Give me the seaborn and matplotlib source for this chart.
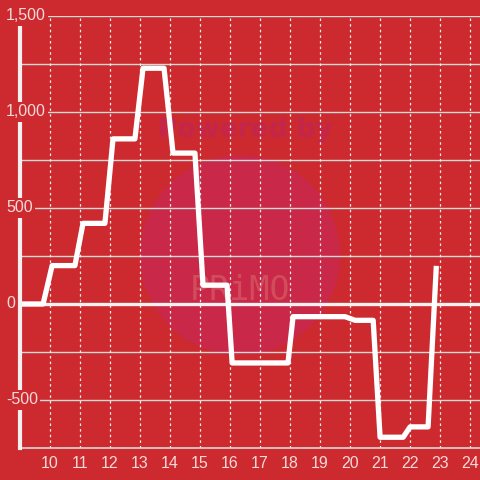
import numpy as np
import pandas as pd
import matplotlib
matplotlib.use("Agg")
import matplotlib.pyplot as plt
import matplotlib.patches as mpatches
import matplotlib.transforms as mtransforms
import seaborn as sns

# hours of the day and running value
hours = [9.0, 9.77, 10.07, 10.83, 11.1, 11.83, 12.1, 12.83, 13.1, 13.8, 14.1, 14.83,
         15.1, 15.9, 16.07, 17.93, 18.1, 19.83, 20.17, 20.77, 21.0, 21.77, 22.0, 22.6, 22.87]
values = [0, 0, 200, 200, 420, 420, 860, 860, 1228, 1228, 786, 786,
          98, 98, -307, -307, -66, -66, -85, -85, -694, -694, -640, -640, 185]

y_ticks = [1500, 1000, 500, 0, -500]
y_tick_labels = ["1,500", "1,000", "500", "0", "-500"]
x_ticks = list(range(10, 25))

bg = "#cc2a2f"
txt = "#f4dada"

df = pd.DataFrame({"hour": hours, "value": values})

fig = plt.figure(figsize=(4.8, 4.8), dpi=100, facecolor=bg)
ax = fig.add_axes([20 / 480, 32 / 480, 460 / 480, 432 / 480])
ax.set_facecolor(bg)

# watermark, behind the grid
circ = mpatches.Circle((240 / 480, 225 / 480), 100 / 480, transform=fig.transFigure,
                       facecolor="#c92848", edgecolor="none", zorder=0.2)
ax.add_patch(circ)
ax.text(245 / 480, 350 / 480, "Powered by", transform=fig.transFigure,
        color="#c3264a", fontsize=19, fontweight="bold", ha="center",
        va="center", zorder=0.3, family="DejaVu Sans")
ax.text(240 / 480, 190 / 480, "PRiMO", transform=fig.transFigure,
        color="#d24d5c", fontsize=24, ha="center", va="center", zorder=0.3,
        family="DejaVu Sans Mono")

# grid
for v in np.arange(-500, 1501, 250):
    if v == 0:
        continue
    ax.axhline(v, color="#d9d9d9", lw=1.0, zorder=1)
for h in x_ticks:
    ax.axvline(h, color="#eeeeee", lw=0.9, ls=(0, (2, 2.5)), zorder=1)
ax.axhline(0, color="#f7f0f0", lw=2.4, zorder=2)

sns.lineplot(data=df, x="hour", y="value", sort=False, estimator=None,
             color="white", lw=3.8, ax=ax, zorder=3)

ax.set_xlim(9.0, 24.33)
ax.set_ylim(-750, 1500)

for s in ["top", "right"]:
    ax.spines[s].set_visible(False)
ax.spines["left"].set_color("#f7f0f0")
ax.spines["left"].set_linewidth(3)
ax.spines["left"].set_zorder(4)
ax.spines["bottom"].set_color("#d9d9d9")
ax.spines["bottom"].set_linewidth(1.2)

ax.set_xticks(x_ticks)
ax.set_xticklabels([str(t) for t in x_ticks])
ax.tick_params(axis="x", length=0, pad=6, labelsize=11.5, labelcolor=txt)
for lab in ax.get_xticklabels():
    lab.set_family("Liberation Sans")
ax.set_yticks([])
ax.set_xlabel("")
ax.set_ylabel("")

trans = mtransforms.blended_transform_factory(fig.transFigure, ax.transData)
for v, lab in zip(y_ticks, y_tick_labels):
    ax.text(6 / 480, v, lab, transform=trans, ha="left", va="center",
            fontsize=11.5, color=txt, family="Liberation Sans", zorder=10,
            clip_on=False,
            bbox=dict(facecolor=bg, edgecolor="none", pad=1.5))

fig.savefig("out.png", dpi=100, facecolor=bg)
